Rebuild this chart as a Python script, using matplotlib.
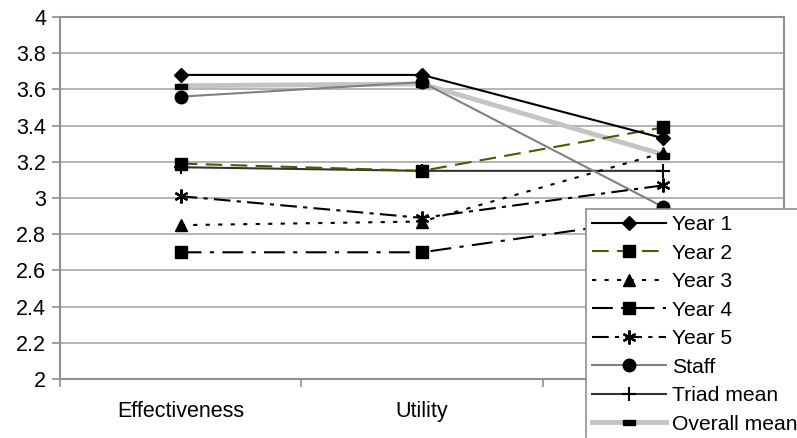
import matplotlib.pyplot as plt
import numpy as np

plt.rcParams["font.family"] = ["Liberation Sans", "DejaVu Sans"]

categories = ["Effectiveness", "Utility", "Feasibility"]
year1 = [3.68, 3.68, 3.33]
year2 = [3.19, 3.15, 3.39]
year3 = [2.85, 2.87, 3.25]
year4 = [2.70, 2.70, 2.89]
year5 = [3.01, 2.89, 3.07]
staff = [3.56, 3.64, 2.95]
triad_mean = [3.17, 3.15, 3.15]
overall_mean = [3.62, 3.63, 3.24]

fig = plt.figure(figsize=(7.97, 4.38), dpi=100)
ax = fig.add_axes([0.0753, 0.1347, 0.9084, 0.8265])

x = np.arange(len(categories))
rect = [(-1, -0.45), (1, -0.45), (1, 0.45), (-1, 0.45), (-1, -0.45)]

ax.plot(x, overall_mean, color="#c4c4c4", lw=3.5, marker=rect, ms=8,
        mfc="black", mec="black", label="Overall mean", zorder=3)
ax.plot(x, triad_mean, color="#333333", lw=1.5, marker="+", ms=10, mew=1.5,
        mec="black", label="Triad mean", zorder=4)
ax.plot(x, staff, color="#808080", lw=1.5, marker="o", ms=9,
        mfc="black", mec="black", label="Staff", zorder=5)
ax.plot(x, year5, color="black", lw=1.5, dashes=(8, 3, 2, 3), marker=(6, 2, 0),
        ms=10, mew=1.6, mec="black", label="Year 5", zorder=6)
ax.plot(x, year4, color="black", lw=1.5, dashes=(10, 4, 2, 4), marker="s", ms=9,
        mfc="black", mec="black", label="Year 4", zorder=6)
ax.plot(x, year3, color="black", lw=1.5, dashes=(2, 4), marker="^", ms=9,
        mfc="black", mec="black", label="Year 3", zorder=6)
ax.plot(x, year2, color="#4b5a00", lw=1.5, dashes=(8, 4), marker="s", ms=9,
        mfc="black", mec="black", label="Year 2", zorder=6)
ax.plot(x, year1, color="black", lw=1.5, marker="D", ms=7,
        mfc="black", mec="black", label="Year 1", zorder=7)

ax.set_xlim(-0.5, 2.5)
ax.set_ylim(2, 4)
ax.set_yticks(np.arange(2, 4.01, 0.2))
ax.set_yticklabels(["2", "2.2", "2.4", "2.6", "2.8", "3", "3.2", "3.4", "3.6", "3.8", "4"])
ax.set_xticks([-0.5, 0.5, 1.5, 2.5])
ax.set_xticklabels([])
ax.set_xticks(x, minor=True)
ax.set_xticklabels(categories, minor=True)
ax.tick_params(axis="x", which="minor", length=0, pad=16, labelsize=15.5)
ax.tick_params(axis="x", which="major", length=6, color="#909090", width=1.2)
ax.tick_params(axis="y", length=6, color="#909090", width=1.2, labelsize=15.5, pad=4)
ax.yaxis.grid(True, color="#a8a8a8", lw=1.2)
ax.set_axisbelow(True)
for s in ax.spines.values():
    s.set_color("#909090")
    s.set_linewidth(1.5)

handles, labels = ax.get_legend_handles_labels()
leg = fig.legend(handles[::-1], labels[::-1], loc="upper left",
                 bbox_to_anchor=(0.735, 0.523), frameon=True, fancybox=False,
                 edgecolor="#909090", facecolor="white", framealpha=1,
                 fontsize=15.2, handlelength=3.5, labelspacing=0.45,
                 borderpad=0.3, handletextpad=0.3, borderaxespad=0)
leg.get_frame().set_linewidth(1.2)

fig.savefig("out.png", dpi=100)
